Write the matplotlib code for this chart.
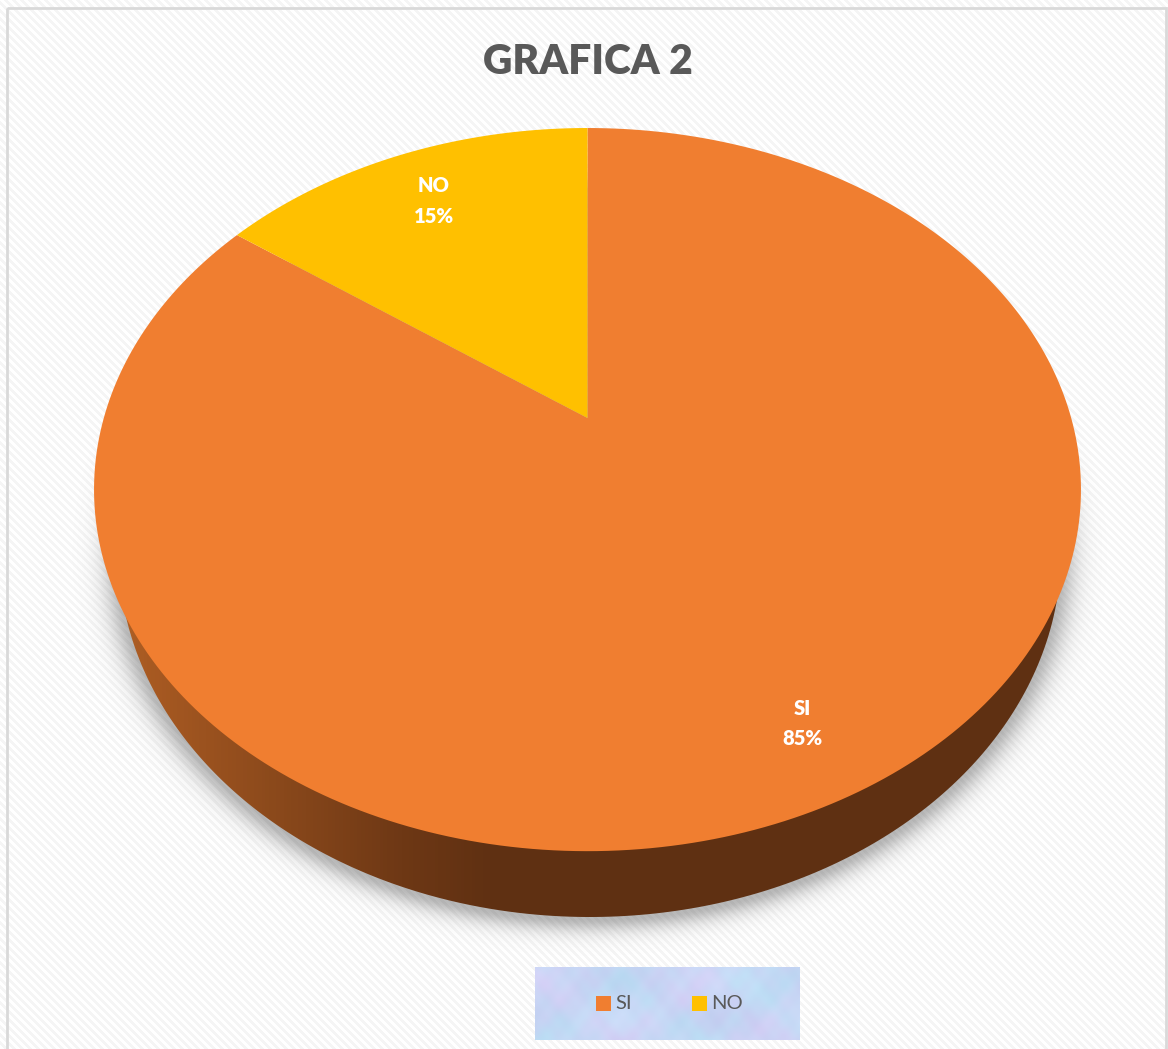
import numpy as np
import matplotlib
matplotlib.use("Agg")
import matplotlib.pyplot as plt
from matplotlib.colors import LinearSegmentedColormap
from matplotlib.patches import Polygon, Rectangle

plt.rcParams["font.family"] = ["Lato", "DejaVu Sans"]

# data
categories = ["SI", "NO"]
values = [85, 15]
colors = ["#F07E30", "#FFC000"]
title = "GRAFICA 2"

W, H = 1168, 1049

# perspective of the pie top, in image pixels
APEX_X, APEX_Y = 587.5, 418
SCALE_X, SCALE_Y, TILT = 483.7, 347.4, 0.198


def project(r, angle):
    # angle is measured clockwise from 12 o'clock, in degrees
    u = r * np.sin(np.radians(angle))
    v = r * np.cos(np.radians(angle))
    d = 1 + TILT * v
    return APEX_X + SCALE_X * u / d, APEX_Y - SCALE_Y * v / d


fig = plt.figure(figsize=(W / 100, H / 100), dpi=100)
ax = fig.add_axes([0, 0, 1, 1])
ax.set_xlim(0, W)
ax.set_ylim(H, 0)
ax.axis("off")

yy, xx = np.mgrid[0:H, 0:W] + 0.5

# striped background with a grey border
stripes = np.where((xx - yy) % 8 < 4, 1.0, 0.96)
ax.imshow(stripes, cmap="gray", vmin=0, vmax=1, extent=(0, W, H, 0), aspect="auto",
          interpolation="nearest", zorder=0)
ax.add_patch(Rectangle((7, 8), W - 9, H + 20, fill=False, ec="#D9D9D9", lw=2, zorder=1))

# soft shadow under the pie
SIDE_X, SIDE_Y, SIDE_A, SIDE_B = 589.75, 552, 471.25, 365
rad = np.sqrt(((xx - SIDE_X) / SIDE_A) ** 2 + ((yy - SIDE_Y - 3) / SIDE_B) ** 2)
dist = np.clip(rad - 1, 0, None) * 400
shadow = np.zeros((H, W, 4))
shadow[..., :3] = 0.35
shadow[..., 3] = 0.42 * np.exp(-(dist / 14) ** 1.5)
ax.imshow(shadow, extent=(0, W, H, 0), aspect="auto", zorder=2)

# side wall of the pie, lighter on the left
t = np.radians(np.linspace(0, 360, 721))
side_pts = np.column_stack([SIDE_X + SIDE_A * np.cos(t), SIDE_Y + SIDE_B * np.sin(t)])
side_patch = Polygon(side_pts, closed=True, fc="none", ec="none", transform=ax.transData)
ax.add_patch(side_patch)
wall_cmap = LinearSegmentedColormap.from_list(
    "wall", [(0, "#B05F25"), (0.03, "#A85A22"), (0.3, "#6E3815"), (0.4, "#5F3012"), (1, "#5F3012")])
wall = ax.imshow(np.linspace(0, 1, 256).reshape(1, -1), cmap=wall_cmap, vmin=0, vmax=1,
                 extent=(118, 1061, 930, 500), aspect="auto", zorder=3)
wall.set_clip_path(side_patch)

# top of the pie
start = 0
for name, val, col in zip(categories, values, colors):
    sweep = val / sum(values) * 360
    angles = np.linspace(start, start + sweep, 300)
    px, py = project(1, angles)
    ax.fill(np.r_[APEX_X, px], np.r_[APEX_Y, py], color=col, lw=0, zorder=4)
    r = 0.84 if name == "SI" else 0.80
    lx, ly = project(r, start + sweep / 2)
    ax.text(lx - (2 if name == "SI" else 0), ly, f"{name}\n{val}%", color="white", fontsize=14.5,
            fontweight="heavy", ha="center", va="center", linespacing=1.7, zorder=5)
    start += sweep

ax.text(588, 62, title, color="#595959", fontsize=29.3, fontweight="heavy",
        ha="center", va="center", zorder=5)

# legend box with a mottled blue and lilac fill
lx0, lx1, ly0, ly1 = 535, 800, 967, 1040
gx, gy = np.meshgrid(np.arange(lx1 - lx0), np.arange(ly1 - ly0))
n1 = (np.sin(gx / 23 + 1.0) * np.sin(gy / 17 + 0.5) + 0.5 * np.sin(gx / 9 + 1.3) * np.sin(gy / 7)
      + 0.3 * np.sin(gx / 4 + 2.0) * np.sin(gy / 5 + 1.0))
n2 = (np.sin(gx / 31 + 2.0) * np.sin(gy / 13 + 0.7) + 0.4 * np.sin(gx / 6) * np.sin(gy / 9 + 2.1)
      + 0.25 * np.sin(gx / 3 + 0.4) * np.sin(gy / 4))
tex = np.zeros(gx.shape + (3,))
tex[..., 0] = 0.78 + 0.03 * n1 + 0.012 * n2
tex[..., 1] = 0.84 - 0.022 * n1 + 0.022 * n2
tex[..., 2] = 0.96 + 0.012 * n2
ax.imshow(np.clip(tex, 0, 1), extent=(lx0, lx1, ly1, ly0), aspect="auto", zorder=6)
ax.set_xlim(0, W)
ax.set_ylim(H, 0)

for name, col, x in zip(categories, colors, [596, 692]):
    ax.add_patch(Rectangle((x, 996), 15, 15, fc=col, ec="none", zorder=7))
    ax.text(x + 19, 1003.5, name, color="#595959", fontsize=14.5, ha="left", va="center", zorder=7)

fig.savefig("out.png", dpi=100)
